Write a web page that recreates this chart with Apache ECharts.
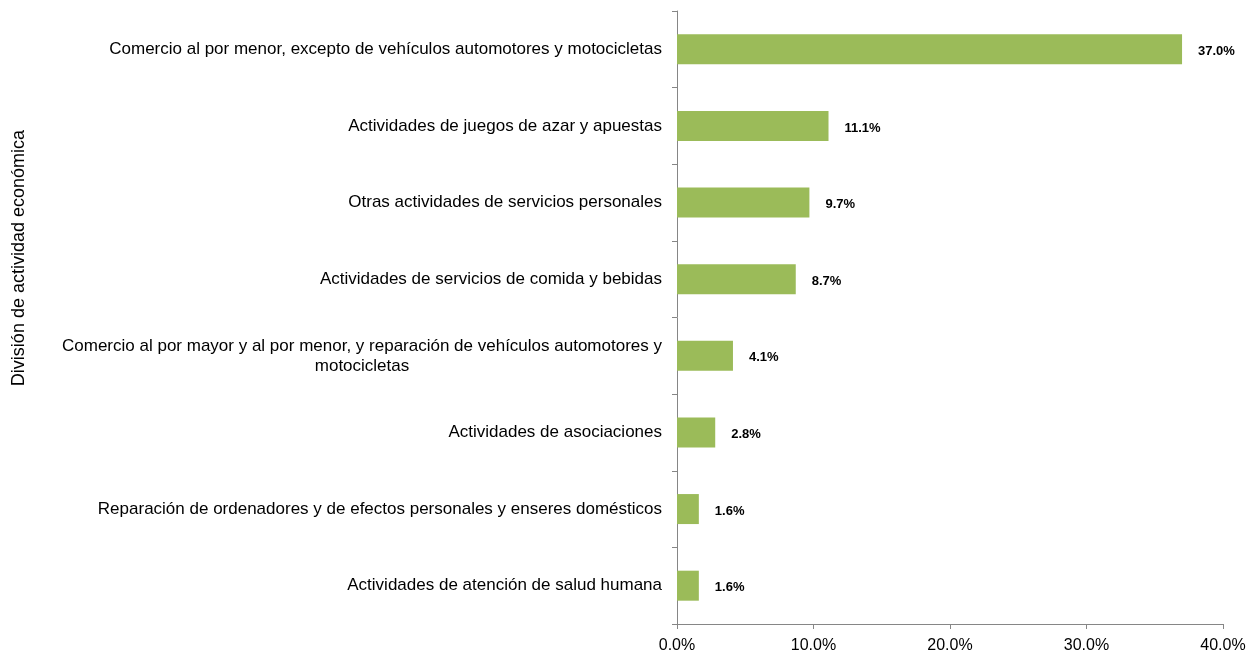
<!DOCTYPE html>
<html>
<head>
<meta charset="utf-8">
<script src="https://cdn.jsdelivr.net/npm/echarts@6/dist/echarts.min.js"></script>
<style>
  body { margin: 0; background: #fff; }
  #chart { width: 1258px; height: 655px; }
</style>
</head>
<body>
<div id="chart"></div>
<script>
const categories = [
  'Comercio al por menor, excepto de vehículos automotores y motocicletas',
  'Actividades de juegos de azar y apuestas',
  'Otras actividades de servicios personales',
  'Actividades de servicios de comida y bebidas',
  'Comercio al por mayor y al por menor, y reparación de vehículos automotores y\nmotocicletas',
  'Actividades de asociaciones',
  'Reparación de ordenadores y de efectos personales y enseres domésticos',
  'Actividades de atención de salud humana'
]
const values = [37.0, 11.1, 9.7, 8.7, 4.1, 2.8, 1.6, 1.6]
const axisName = 'División de actividad económica'

const chart = echarts.init(document.getElementById('chart'))
const font = '"Liberation Sans", Arial, sans-serif'

chart.setOption({
  animation: false,
  grid: { left: 677, right: 35, top: 11, bottom: 31 },
  xAxis: {
    type: 'value',
    min: 0,
    max: 40,
    interval: 10,
    splitLine: { show: false },
    axisLine: { show: true, lineStyle: { color: '#868686' } },
    axisTick: { show: true, length: 5, lineStyle: { color: '#868686' } },
    axisLabel: {
      color: '#000',
      fontFamily: font,
      fontSize: 16,
      margin: 14,
      formatter: v => v.toFixed(1) + '%'
    }
  },
  yAxis: {
    type: 'category',
    inverse: true,
    data: categories,
    axisLine: { show: true, lineStyle: { color: '#868686' } },
    axisTick: { show: true, length: 5, lineStyle: { color: '#868686' } },
    axisLabel: {
      margin: 15,
      align: 'right',
      formatter: v => v.split('\n').map(s => '{c|' + s + '}').join('\n'),
      rich: {
        c: {
          align: 'center',
          color: '#000',
          fontFamily: font,
          fontSize: 17,
          lineHeight: 20
        }
      }
    }
  },
  graphic: [{
    type: 'text',
    left: 10,
    top: 130,
    rotation: Math.PI / 2,
    style: {
      text: axisName,
      fill: '#000',
      font: '18px ' + font
    }
  }],
  series: [{
    type: 'bar',
    data: values,
    barWidth: 30,
    itemStyle: { color: '#9BBB59' },
    label: {
      show: true,
      position: 'right',
      distance: 16,
      offset: [0, 2],
      color: '#000',
      fontWeight: 'bold',
      fontFamily: font,
      fontSize: 13,
      formatter: p => p.value.toFixed(1) + '%'
    }
  }]
})
</script>
</body>
</html>
